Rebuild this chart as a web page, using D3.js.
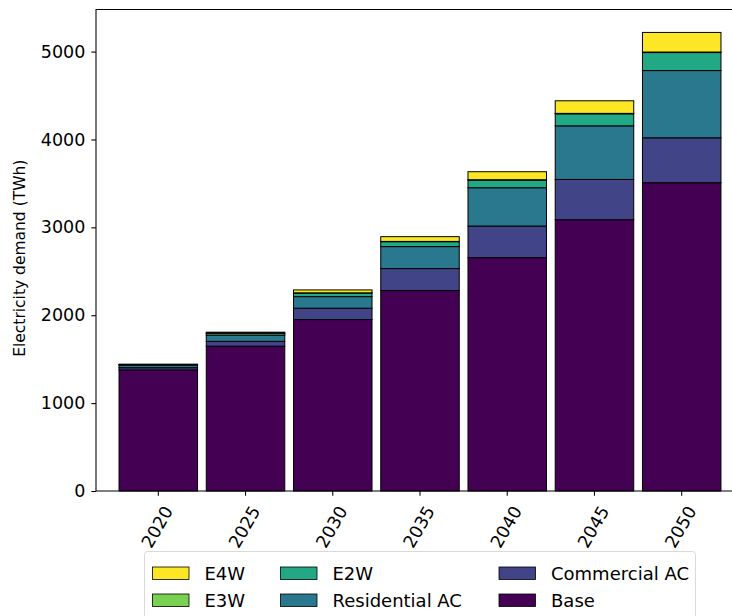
<!DOCTYPE html>
<html>
<head>
<meta charset="utf-8">
<script src="https://cdn.jsdelivr.net/npm/d3@7"></script>
<style>
  html, body { margin: 0; padding: 0; background: #fff; }
  svg { display: block; font-family: "DejaVu Sans", sans-serif; }
</style>
</head>
<body>
<svg id="chart" width="732" height="616"></svg>
<script>
// Electricity demand by end use, stacked per milestone year (TWh)
const years = ["2020", "2025", "2030", "2035", "2040", "2045", "2050"];
const base = [1378, 1648, 1951, 2281, 2655, 3087, 3508];
const commercialAC = [25, 55, 129, 250, 360, 458, 511];
const residentialAC = [28, 70, 132, 250, 436, 610, 765];
const e2w = [8, 20, 41, 56, 87, 137, 205];
const e3w = [1, 2, 2, 3, 4, 5, 6];
const e4w = [3, 12, 33, 54, 91, 143, 223];
const yTicks = [0, 1000, 2000, 3000, 4000, 5000];

const seriesNames = ["Base", "Commercial AC", "Residential AC", "E2W", "E3W", "E4W"];
const seriesValues = [base, commercialAC, residentialAC, e2w, e3w, e4w];
const seriesColors = ["#440154", "#414487", "#2a788e", "#22a884", "#7ad151", "#fde725"];

const rows = years.map((y, i) => {
  const r = { year: y };
  seriesNames.forEach((n, k) => { r[n] = seriesValues[k][i]; });
  return r;
});
const stacked = d3.stack().keys(seriesNames)(rows);

const svg = d3.select("#chart");
const plot = { left: 96, top: 9.5, bottom: 491, right: 744 };
const tickFont = "17.5px";
const legendFont = "18px";
const labelFont = "15.5px";

const x = d3.scaleBand()
  .domain(years)
  .range([plot.left, plot.right])
  .paddingInner(0.1)
  .paddingOuter(0.264);

const totalMax = d3.max(rows, r => d3.sum(seriesNames, n => r[n]));
const y = d3.scaleLinear()
  .domain([0, totalMax * 1.05])
  .range([plot.bottom, plot.top]);

const color = d3.scaleOrdinal().domain(seriesNames).range(seriesColors);

// stacked bars
svg.append("g")
  .selectAll("g")
  .data(stacked)
  .join("g")
  .attr("fill", d => color(d.key))
  .selectAll("rect")
  .data(d => d)
  .join("rect")
  .attr("x", d => x(d.data.year))
  .attr("width", x.bandwidth())
  .attr("y", d => y(d[1]))
  .attr("height", d => y(d[0]) - y(d[1]))
  .attr("stroke", "#000")
  .attr("stroke-width", 1);

// axes
const yAxis = svg.append("g")
  .attr("transform", `translate(${plot.left},0)`)
  .call(d3.axisLeft(y).tickValues(yTicks).tickSize(4.7).tickPadding(6).tickFormat(d3.format("d")));
yAxis.select(".domain").remove();
yAxis.selectAll("text").attr("font-size", tickFont).attr("fill", "#000").attr("font-family", "DejaVu Sans");
yAxis.selectAll("line").attr("stroke", "#000").attr("stroke-width", 1.07);

const xAxis = svg.append("g")
  .attr("transform", `translate(0,${plot.bottom})`)
  .call(d3.axisBottom(x).tickSize(4.7).tickFormat(""));
xAxis.select(".domain").remove();
xAxis.selectAll("line").attr("stroke", "#000").attr("stroke-width", 1.07);

// rotated year labels
svg.append("g")
  .selectAll("text")
  .data(years)
  .join("text")
  .attr("transform", d => `translate(${x(d) + x.bandwidth() / 2 - 1},${plot.bottom + 36}) rotate(-60)`)
  .attr("text-anchor", "middle")
  .attr("dominant-baseline", "central")
  .attr("font-size", tickFont)
  .attr("fill", "#000")
  .text(d => d);

// frame: left, top and bottom spines
svg.append("path")
  .attr("d", `M${plot.right},${plot.top}H${plot.left}V${plot.bottom}H${plot.right}`)
  .attr("fill", "none")
  .attr("stroke", "#000")
  .attr("stroke-width", 1.07);

// y-axis title
svg.append("text")
  .attr("transform", `translate(20,${(plot.top + plot.bottom) / 2 + 8}) rotate(-90)`)
  .attr("text-anchor", "middle")
  .attr("dominant-baseline", "central")
  .attr("font-size", labelFont)
  .attr("fill", "#000")
  .text("Electricity demand (TWh)");

// legend, three columns of two entries
const legendItems = [
  { name: "E4W", col: 0, row: 0 },
  { name: "E3W", col: 0, row: 1 },
  { name: "E2W", col: 1, row: 0 },
  { name: "Residential AC", col: 1, row: 1 },
  { name: "Commercial AC", col: 2, row: 0 },
  { name: "Base", col: 2, row: 1 }
];
const colX = [152.5, 280.5, 499];
const rowY = [567, 594];

const legend = svg.append("g");
legend.append("rect")
  .attr("x", 144.5).attr("y", 551.5)
  .attr("width", 551).attr("height", 70)
  .attr("rx", 3)
  .attr("fill", "#fff")
  .attr("stroke", "#d9d9d9")
  .attr("stroke-width", 1);

const li = legend.selectAll("g.item")
  .data(legendItems)
  .join("g")
  .attr("class", "item")
  .attr("transform", d => `translate(${colX[d.col]},${rowY[d.row]})`);
li.append("rect")
  .attr("width", 36.5).attr("height", 12.5)
  .attr("fill", d => color(d.name))
  .attr("stroke", "#000")
  .attr("stroke-width", 0.8);
li.append("text")
  .attr("x", 52).attr("y", 6.5)
  .attr("dominant-baseline", "central")
  .attr("font-size", legendFont)
  .attr("fill", "#000")
  .text(d => d.name);
</script>
</body>
</html>
